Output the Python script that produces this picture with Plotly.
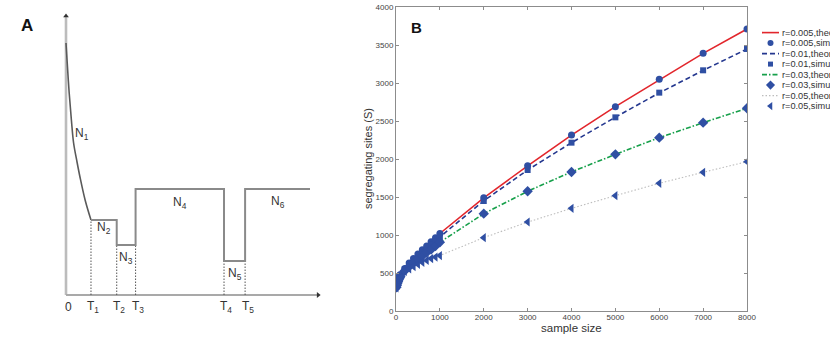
import plotly.graph_objects as go

# ---------------- Panel A: piecewise population-size history ----------------
# breakpoints T1..T5 and the end of the drawn time span (schematic units)
t_labels = ["0", "T<sub>1</sub>", "T<sub>2</sub>", "T<sub>3</sub>", "T<sub>4</sub>", "T<sub>5</sub>"]
t_break = [0.0, 1.02, 2.07, 2.84, 6.45, 7.31]
t_end = 9.96
t_axis_end = 10.29
# constant sizes of epochs N2..N6
n_epoch = [7.5, 5.0, 10.6, 3.4, 10.6]
n_epoch_labels = ["N<sub>2</sub>", "N<sub>3</sub>", "N<sub>4</sub>", "N<sub>5</sub>", "N<sub>6</sub>"]
# exponential epoch N1 (time, size)
n1_t = [0.0, 0.05, 0.13, 0.22, 0.31, 0.45, 0.57, 0.78, 1.02]
n1_size = [25.2, 23.2, 20.2, 17.5, 15.2, 13.3, 11.8, 9.5, 7.5]
y_axis_top = 27.9

# ---------------- Panel B: segregating sites vs sample size ----------------
n_sim = [10, 20, 30, 40, 50, 60, 70, 80, 90, 100,
         200, 300, 400, 500, 600, 700, 800, 900, 1000,
         2000, 3000, 4000, 5000, 6000, 7000, 8000]
s_sim_005 = [320, 350, 375, 395, 410, 425, 440, 455, 468, 480,
             560, 630, 690, 750, 805, 855, 910, 965, 1020,
             1490, 1912, 2316, 2689, 3048, 3390, 3711]
s_sim_01 = [318, 345, 370, 390, 405, 420, 435, 448, 460, 472,
            550, 615, 675, 725, 775, 825, 870, 920, 975,
            1447, 1855, 2215, 2548, 2873, 3167, 3447]
s_sim_03 = [312, 340, 362, 380, 396, 410, 423, 435, 446, 456,
            530, 585, 635, 680, 725, 770, 810, 855, 905,
            1281, 1575, 1829, 2061, 2281, 2478, 2667]
s_sim_05 = [305, 332, 352, 370, 385, 398, 410, 420, 430, 440,
            520, 555, 585, 615, 640, 665, 690, 710, 730,
            965, 1171, 1351, 1518, 1680, 1825, 1965]

n_theo = [10, 100, 200, 500, 1000, 2000, 3000, 4000, 5000, 6000, 7000, 8000]
s_theo_005 = [320, 480, 560, 750, 1020, 1490, 1910, 2315, 2690, 3045, 3390, 3710]
s_theo_01 = [318, 472, 550, 725, 975, 1450, 1855, 2215, 2550, 2870, 3165, 3447]
s_theo_03 = [312, 456, 530, 680, 905, 1280, 1575, 1830, 2060, 2280, 2478, 2667]
s_theo_05 = [305, 440, 520, 615, 730, 965, 1170, 1350, 1518, 1680, 1825, 1965]

x_ticks = list(range(0, 8001, 1000))
y_ticks = list(range(0, 4001, 500))

legend_labels = ["r=0.005,theory", "r=0.005,simulation", "r=0.01,theory", "r=0.01,simulation",
                 "r=0.03,theory", "r=0.03,simulation", "r=0.05,theory", "r=0.05,simulation"]

W, H = 830, 341
BLUE = "#2f4fa3"
RED = "#e2262c"
DBLUE = "#24378f"
GREEN = "#17a04b"
LGRAY = "#bdbdbd"
FONT = "Liberation Sans, Arial"

theory = [
    (s_theo_005, dict(color=RED, width=1.6, dash="solid")),
    (s_theo_01, dict(color=DBLUE, width=1.6, dash="5px,3px")),
    (s_theo_03, dict(color=GREEN, width=1.6, dash="5px,2px,1.5px,2px")),
    (s_theo_05, dict(color=LGRAY, width=1.1, dash="1.5px,2px")),
]
sims = [
    (s_sim_005, "circle", 7),
    (s_sim_01, "square", 6),
    (s_sim_03, "diamond", 8),
    (s_sim_05, "triangle-left", 8),
]

fig = go.Figure()

# --- Panel B traces
for ys, line in theory:
    fig.add_trace(go.Scatter(x=n_theo, y=ys, mode="lines", line=line,
                             xaxis="x", yaxis="y", hoverinfo="skip"))
for ys, sym, size in sims:
    fig.add_trace(go.Scatter(x=n_sim, y=ys, mode="markers",
                             marker=dict(symbol=sym, size=size, color=BLUE, line=dict(width=0)),
                             xaxis="x", yaxis="y"))

# --- Compact legend for panel B (own pixel-scaled axes)
leg_x0, leg_x1, leg_y0, leg_dy = 762, 779, 32.6, 10.5
for i, lab in enumerate(legend_labels):
    yy = leg_y0 + i * leg_dy
    if i % 2 == 0:
        _, line = theory[i // 2]
        fig.add_trace(go.Scatter(x=[leg_x0, leg_x1], y=[yy, yy], mode="lines", line=line,
                                 xaxis="x3", yaxis="y3", hoverinfo="skip"))
    else:
        _, sym, size = sims[i // 2]
        fig.add_trace(go.Scatter(x=[(leg_x0 + leg_x1) / 2], y=[yy], mode="markers",
                                 marker=dict(symbol=sym, size=size - 1, color=BLUE),
                                 xaxis="x3", yaxis="y3", hoverinfo="skip"))
    fig.add_annotation(x=leg_x1 + 1, y=yy, xref="x3", yref="y3", text=lab, showarrow=False,
                       xanchor="left", yanchor="middle",
                       font=dict(family=FONT, size=9.2, color="#333"))

# --- Panel A traces
AX_COL = "#a9a9a9"
STEP_COL = "#8a8a8a"
# axes with arrow heads
fig.add_trace(go.Scatter(x=[0, 0], y=[0, y_axis_top], mode="lines",
                         line=dict(color="#bcbcbc", width=2.6), xaxis="x2", yaxis="y2"))
fig.add_trace(go.Scatter(x=[0, t_axis_end], y=[0, 0], mode="lines",
                         line=dict(color=AX_COL, width=2), xaxis="x2", yaxis="y2"))
fig.add_trace(go.Scatter(x=[0], y=[y_axis_top], mode="markers",
                         marker=dict(symbol="triangle-up", size=5, color="#333"),
                         xaxis="x2", yaxis="y2"))
fig.add_trace(go.Scatter(x=[t_axis_end], y=[0], mode="markers",
                         marker=dict(symbol="triangle-right", size=5, color="#333"),
                         xaxis="x2", yaxis="y2"))
# dotted guides from each breakpoint down to the time axis
sizes_at_left = [n1_size[-1]] + n_epoch[:-1]
for k in range(1, 6):
    top = min(sizes_at_left[k - 1], n_epoch[k - 1])
    fig.add_trace(go.Scatter(x=[t_break[k], t_break[k]], y=[0, top], mode="lines",
                             line=dict(color="#555", width=1, dash="1.5px,1.5px"),
                             xaxis="x2", yaxis="y2"))
# exponential epoch
fig.add_trace(go.Scatter(x=n1_t, y=n1_size, mode="lines", line=dict(color="#5a5a5a", width=1.6, shape="spline"),
                         xaxis="x2", yaxis="y2"))
# constant epochs as a step function
fig.add_trace(go.Scatter(x=t_break[1:] + [t_end], y=n_epoch + [n_epoch[-1]], mode="lines",
                         line=dict(color=STEP_COL, width=2, shape="hv"),
                         xaxis="x2", yaxis="y2"))

LAB_FONT = dict(family=FONT, size=12, color="#333")
# epoch labels
fig.add_annotation(x=0.65, y=16.1, xref="x2", yref="y2", text="N<sub>1</sub>", showarrow=False, font=LAB_FONT)
label_dy = [-0.75, -1.25, -1.4, -1.25, -1.3]
for k in range(5):
    right = t_break[k + 2] if k + 2 < len(t_break) else t_end
    fig.add_annotation(x=(t_break[k + 1] + right) / 2, y=n_epoch[k] + label_dy[k], xref="x2", yref="y2",
                       text=n_epoch_labels[k], showarrow=False, font=LAB_FONT)
# time tick labels
for t, lab in zip(t_break, t_labels):
    fig.add_annotation(x=t + 0.1, y=-1.15, xref="x2", yref="y2", text=lab, showarrow=False, font=LAB_FONT)

# panel letters
fig.add_annotation(x=27 / W, y=1 - 25 / H, xref="paper", yref="paper", text="<b>A</b>", showarrow=False,
                   xanchor="center", yanchor="middle",
                   font=dict(family=FONT, size=17, color="#111"))
fig.add_annotation(x=417 / W, y=1 - 27 / H, xref="paper", yref="paper", text="<b>B</b>", showarrow=False,
                   xanchor="center", yanchor="middle",
                   font=dict(family=FONT, size=15, color="#111"))

# axis titles of panel B
fig.add_annotation(x=368 / W, y=1 - 159 / H, xref="paper", yref="paper", text="segregating sites (S)",
                   textangle=-90, showarrow=False, xanchor="center", yanchor="middle",
                   font=dict(family=FONT, size=11, color="#333"))
fig.add_annotation(x=571 / W, y=1 - 328 / H, xref="paper", yref="paper", text="sample size",
                   showarrow=False, xanchor="center", yanchor="middle",
                   font=dict(family=FONT, size=11.5, color="#333"))

TICK_FONT = dict(family=FONT, size=8, color="#444")
PX_T, PX_N = 24.5, 10.0  # panel A: pixels per time unit / per size unit
fig.update_layout(
    width=W, height=H,
    margin=dict(l=0, r=0, t=0, b=0, pad=0, autoexpand=False),
    paper_bgcolor="white", plot_bgcolor="white",
    showlegend=False,
    xaxis=dict(domain=[396 / W, 747 / W], range=[0, 8000], tickvals=x_ticks,
               showline=True, mirror="allticks", linecolor="#8c8c8c", linewidth=1,
               ticks="inside", ticklen=3, tickcolor="#8c8c8c", showgrid=False, zeroline=False,
               tickfont=TICK_FONT, ticklabelstandoff=-2, anchor="y"),
    yaxis=dict(domain=[1 - 311 / H, 1 - 7 / H], range=[0, 4000], tickvals=y_ticks,
               showline=True, mirror="allticks", linecolor="#8c8c8c", linewidth=1,
               ticks="inside", ticklen=3, tickcolor="#8c8c8c", showgrid=False, zeroline=False,
               tickfont=TICK_FONT, anchor="x"),
    xaxis2=dict(domain=[(66 - 0.4 * PX_T) / W, (66 + 10.6 * PX_T) / W], range=[-0.4, 10.6],
                visible=False, anchor="y2"),
    yaxis2=dict(domain=[1 - (295 + 2.5 * PX_N) / H, 1 - (295 - 28.5 * PX_N) / H], range=[-2.5, 28.5],
                visible=False, anchor="x2"),
    xaxis3=dict(domain=[755 / W, 1.0], range=[755, 830], visible=False, anchor="y3"),
    yaxis3=dict(domain=[1 - 115 / H, 1 - 25 / H], range=[115, 25], visible=False, anchor="x3"),
)

fig.write_html("out.html")
